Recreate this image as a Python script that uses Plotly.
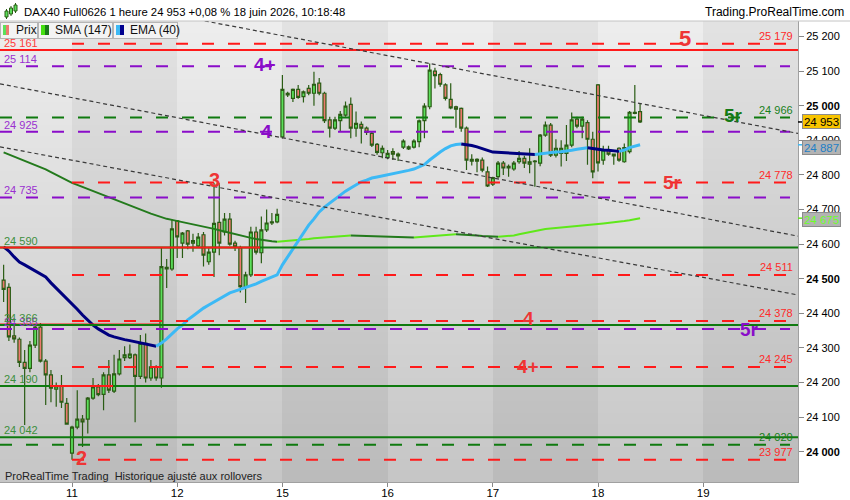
import numpy as np
import plotly.graph_objects as go

# ---------------- data ----------------
day_labels = ["11", "12", "15", "16", "17", "18", "19"]
day_starts = [0, 20, 40, 60, 80, 100, 120]   # candle index of the first hourly candle of each day
first_candle = -13                            # index of the first visible candle (day 10)

opens = [
    24496, 24475, 24335, 24325, 24258, 24241, 24308, 24360, 24262, 24222, 24181, 24190, 24140,
    23996, 24071, 24094, 24094, 24155, 24187, 24166, 24222, 24175, 24225, 24272, 24272, 24280, 24218, 24313, 24213, 24245, 24213, 24533, 24528,
    24667, 24603, 24638, 24603, 24595, 24627, 24549, 24577, 24663, 24635, 24672, 24603, 24590, 24477, 24511, 24635, 24575, 24641, 24661, 24664,
    24910, 25036, 25021, 25047, 25026, 25050, 25036, 25065, 25036, 24959, 24935, 24957, 24973, 25004, 24935, 24946, 24935, 24920, 24888, 24864,
    24850, 24867, 24860, 24880, 24875, 24880, 24896, 24957, 24997, 25100, 25090, 25060, 25018, 24997, 24992, 24935, 24845, 24840, 24843, 24809,
    24773, 24795, 24834, 24820, 24817, 24838, 24848, 24831, 24840, 24834, 24915, 24944, 24857, 24862, 24862, 24886, 24961, 24941, 24951, 24903,
    25060, 24843, 24872, 24860, 24877, 24838, 24867, 24978, 24983,
]
highs = [
    24540, 24487, 24365, 24330, 24294, 24320, 24370, 24372, 24268, 24236, 24200, 24222, 24155,
    24075, 24178, 24106, 24158, 24213, 24196, 24230, 24265, 24280, 24294, 24305, 24310, 24284, 24337, 24342, 24265, 24250, 24590, 24557, 24672,
    24670, 24635, 24641, 24630, 24632, 24635, 24588, 24777, 24777, 24690, 24690, 24610, 24595, 24520, 24650, 24650, 24680, 24700, 24690, 24702,
    25089, 25040, 25050, 25060, 25044, 25060, 25098, 25080, 25040, 24968, 24968, 24985, 25012, 25024, 24983, 24954, 24940, 24925, 24892, 24885,
    24872, 24877, 24865, 24903, 24885, 24903, 24960, 25007, 25122, 25110, 25095, 25065, 25065, 25000, 24995, 24940, 24860, 24848, 24850, 24824,
    24795, 24840, 24840, 24830, 24840, 24869, 24855, 24877, 24843, 24918, 24954, 24950, 24903, 24900, 24944, 24980, 24968, 24968, 24958, 24925,
    25063, 24884, 24884, 24862, 24880, 24891, 24985, 25060, 25007,
]
lows = [
    24433, 24320, 24315, 24245, 24077, 24230, 24300, 24258, 24135, 24143, 24130, 24126, 24078,
    23977, 24065, 24014, 24053, 24150, 24160, 24120, 24170, 24170, 24220, 24262, 24268, 24085, 24210, 24200, 24205, 24205, 24185, 24473, 24523,
    24560, 24560, 24585, 24578, 24590, 24535, 24540, 24505, 24568, 24625, 24595, 24580, 24460, 24430, 24505, 24570, 24545, 24635, 24655, 24660,
    24905, 25025, 25011, 25020, 25009, 25030, 25000, 25030, 24950, 24908, 24930, 24924, 24968, 24906, 24910, 24891, 24915, 24881, 24858, 24848,
    24845, 24843, 24840, 24875, 24872, 24876, 24880, 24906, 24990, 25050, 25055, 25015, 24990, 24936, 24925, 24814, 24827, 24808, 24808, 24765,
    24768, 24790, 24800, 24795, 24812, 24832, 24820, 24805, 24766, 24825, 24910, 24852, 24850, 24824, 24840, 24880, 24935, 24906, 24829, 24790,
    24810, 24829, 24855, 24829, 24838, 24835, 24862, 24975, 24950,
]
closes = [
    24469, 24332, 24326, 24258, 24241, 24308, 24360, 24262, 24222, 24184, 24190, 24143, 24080,
    24071, 24094, 24086, 24155, 24187, 24165, 24222, 24178, 24225, 24268, 24280, 24282, 24218, 24313, 24213, 24245, 24213, 24535, 24528, 24644,
    24621, 24632, 24600, 24610, 24620, 24568, 24577, 24660, 24603, 24672, 24600, 24592, 24477, 24511, 24635, 24577, 24641, 24661, 24664, 24686,
    25047, 25031, 25047, 25024, 25040, 25036, 25062, 25036, 24957, 24935, 24959, 24975, 24999, 24935, 24949, 24935, 24923, 24886, 24865, 24877,
    24862, 24860, 24855, 24898, 24881, 24898, 24956, 24999, 25103, 25087, 25062, 25021, 24994, 24990, 24935, 24843, 24840, 24845, 24814, 24768,
    24792, 24834, 24820, 24825, 24834, 24848, 24834, 24838, 24838, 24915, 24944, 24857, 24877, 24877, 24886, 24959, 24941, 24961, 24903, 24809,
    24835, 24872, 24860, 24855, 24843, 24879, 24981, 24981, 24953,
]
ema40 = [
    24592, 24580, 24563, 24548, 24540, 24531, 24522, 24514, 24505, 24488, 24473, 24459, 24444,
    24430, 24412, 24395, 24381, 24366, 24355, 24346, 24337, 24332, 24327, 24324, 24321, 24318, 24316, 24311, 24308, 24305, 24314, 24326, 24340,
    24355, 24366, 24381, 24392, 24404, 24415, 24424, 24433, 24441, 24450, 24459, 24464, 24469, 24473, 24479, 24485, 24492, 24499, 24505, 24511,
    24540, 24563, 24586, 24609, 24632, 24655, 24673, 24693, 24707, 24719, 24730, 24742, 24753, 24762, 24771, 24780, 24785, 24791, 24794, 24797,
    24800, 24803, 24806, 24808, 24813, 24817, 24823, 24830, 24843, 24855, 24866, 24876, 24884, 24888, 24889, 24888, 24885, 24881, 24875, 24871,
    24866, 24865, 24863.5, 24863, 24862, 24861.5, 24860.5, 24860, 24859, 24861, 24864, 24865, 24866, 24867, 24868, 24871, 24874, 24877, 24878.5, 24876,
    24874, 24872, 24871, 24869.5, 24868, 24872, 24879, 24884, 24887,
]
sma147 = [
    24865, 24859, 24853, 24847, 24842, 24836, 24829, 24823, 24816, 24808, 24800, 24792, 24785,
    24777, 24771, 24765, 24759, 24752, 24746, 24740, 24735, 24729, 24723, 24717, 24712, 24706, 24700, 24694, 24688, 24683, 24677, 24673, 24670,
    24667, 24664, 24661, 24658, 24655, 24651, 24647, 24644, 24640, 24636, 24632, 24628, 24625, 24620, 24618, 24615, 24612, 24610, 24608, 24607,
    24608, 24609, 24611, 24612, 24614, 24615, 24617, 24618, 24619, 24620, 24621, 24622, 24624, 24625, 24624.5, 24624, 24623.3, 24622.7, 24622.2, 24621.6,
    24621.2, 24620.7, 24620.3, 24620, 24619.6, 24619.3, 24620.4, 24622, 24623.7, 24625, 24626.4, 24627.2, 24627.8, 24628.3, 24627.8, 24627, 24625.8, 24624.7, 24623.5, 24622.4,
    24621.5, 24621, 24622, 24623.4, 24625, 24628.6, 24632, 24635.6, 24639, 24642, 24643.7, 24645.4, 24646.6, 24647.7, 24649, 24650, 24651.5, 24653, 24654.6, 24656.4,
    24658, 24659.6, 24661, 24663, 24664.8, 24666.8, 24669, 24671, 24675,
]

price_ticks = list(range(24000, 25201, 100))
bold_ticks = [24000, 24500, 25000]
last_price = 24953
ema_last = 24887
sma_last = 24675

# horizontal support / resistance levels
level_prices = [25179, 25161, 25114, 24966, 24925, 24778, 24735, 24590, 24590, 24511,
                24378, 24368, 24366, 24355, 24245, 24190, 24190, 24042, 24020, 23977]
right_label_values = [25179, 24966, 24778, 24511, 24378, 24245, 24020, 23977]
left_label_values = [25161, 25114, 24925, 24735, 24590, 24355, 24366, 24190, 24042]

# trend lines (candle index, price)
trend_x0 = [20, -13.69, -13.69]
trend_p0 = [25260, 25063, 24881]
trend_x1 = [138.02, 138.02, 138.02]
trend_p1 = [24920, 24623, 24453]

wave_texts = ["5", "4+", "4", "5r", "3", "5r", "4", "5r", "4+", "2"]

# ---------------- styles / layout ----------------
RED = "#ff1a1a"
GREEN = "#0f7a0f"
PURPLE = "#8a0dc9"
FONT = "Liberation Sans, Arial, sans-serif"

PLOT_W, PLOT_TOP, PLOT_BOTTOM = 798, 21, 482
PLOT_H = PLOT_BOTTOM - PLOT_TOP
PX_PER_CANDLE = 5.26
X_DAY11_PX = 72
XMIN = (0 - X_DAY11_PX) / PX_PER_CANDLE
XMAX = (PLOT_W - X_DAY11_PX) / PX_PER_CANDLE
PTS_PER_PX = 2.89
Y_25000_PX = 105.7
YMAX = 25000 + (Y_25000_PX - PLOT_TOP) * PTS_PER_PX
YMIN = 25000 - (PLOT_BOTTOM - Y_25000_PX) * PTS_PER_PX


def pxx(x):
    return x / PLOT_W


def pxy(y):
    return (PLOT_BOTTOM - y) / PLOT_H


def ux(xpx):
    return (xpx - X_DAY11_PX) / PX_PER_CANDLE


def fmt(v):
    return f"{int(round(v)):,}".replace(",", " ")


# style for each level: (color, dash, start px, end px)
level_style = [
    (RED, "dash", 72, 790), (RED, "solid", 0, 798), (PURPLE, "dash", 0, 790), (GREEN, "dash", 0, 790),
    (PURPLE, "dash", 0, 790), (RED, "dash", 72, 790), (PURPLE, "dash", 0, 790), (GREEN, "solid", 0, 798),
    (RED, "solid", 0, 260), (RED, "dash", 72, 790), (RED, "dash", 72, 790), (RED, "solid", 0, 160),
    (GREEN, "solid", 0, 798), (PURPLE, "dash", 0, 790), (RED, "dash", 72, 790), (GREEN, "solid", 0, 798),
    (RED, "solid", 50, 113), (GREEN, "solid", 0, 798), (GREEN, "dash", 0, 790), (RED, "dash", 72, 790),
]
right_label_colors = ["#ff2a2a", "#17801a", "#ff2a2a", "#ff2a2a", "#ff2a2a", "#ff2a2a", "#17801a", "#ff2a2a"]
left_label_colors = ["#ff3a3a", "#9a30d0", "#9a30d0", "#9a30d0", "#3d8f3d", "#9a30d0", "#3d8f3d", "#3d8f3d", "#3d8f3d"]
# wave label style: (color, x px, y px, size)
wave_style = [
    ("#ee3535", 685, 38, 22), (PURPLE, 265, 65, 19), (PURPLE, 266, 131, 19), ("#157a15", 733, 115, 19),
    ("#ee3535", 214, 180, 20), ("#ee3535", 672, 182, 19), ("#ee3535", 528, 318, 19), (PURPLE, 749, 329, 19),
    ("#ee3535", 528, 366, 19), ("#ee3535", 81, 458, 20),
]

candle_x = list(range(first_candle, first_candle + len(opens)))

fig = go.Figure()

# background: alternating day bands with vertical gradient
ny = 40
y_edges = np.linspace(YMIN, YMAX, ny + 1)
x_edges = [XMIN] + day_starts + [XMAX]
z = []
for j in range(ny):
    t = (j + 0.5) / ny
    row = []
    for k in range(len(x_edges) - 1):
        lo, hi = (197, 237) if k % 2 == 0 else (186, 226)
        row.append(lo + (hi - lo) * t)
    z.append(row)
fig.add_trace(go.Heatmap(x=x_edges, y=y_edges, z=z, zmin=0, zmax=255,
                         colorscale=[[0, "rgb(0,0,0)"], [1, "rgb(255,255,255)"]],
                         showscale=False, hoverinfo="skip"))

# candles
fig.add_trace(go.Candlestick(
    x=candle_x, open=opens, high=highs, low=lows, close=closes,
    increasing=dict(fillcolor="#5be05b", line=dict(color="#2a5c14", width=1.2)),
    decreasing=dict(fillcolor="#ec7a6f", line=dict(color="#2a5c14", width=1.2)),
    whiskerwidth=0, hoverinfo="skip", showlegend=False))


def segments(vals):
    segs, start, cur = [], 0, None
    for i in range(1, len(vals)):
        d = "up" if vals[i] > vals[i - 1] else ("down" if vals[i] < vals[i - 1] else cur or "down")
        if cur is None:
            cur = d
        elif d != cur:
            segs.append((start, i - 1, cur))
            start, cur = i - 1, d
    segs.append((start, len(vals) - 1, cur))
    return segs


for s, e, d in segments(sma147):
    fig.add_trace(go.Scatter(x=candle_x[s:e + 1], y=sma147[s:e + 1], mode="lines",
                             line=dict(color="#5fe81a" if d == "up" else "#237a1c", width=2),
                             hoverinfo="skip", showlegend=False))
for s, e, d in segments(ema40):
    fig.add_trace(go.Scatter(x=candle_x[s:e + 1], y=ema40[s:e + 1], mode="lines",
                             line=dict(color="#3cb9f5" if d == "up" else "#00007f", width=3),
                             hoverinfo="skip", showlegend=False))

shapes = []
for p, (col, dash, x0, x1) in zip(level_prices, level_style):
    shapes.append(dict(type="line", xref="x", yref="y", x0=ux(x0), x1=ux(x1), y0=p, y1=p, layer="above",
                       line=dict(color=col, width=2, dash="12px,14px" if dash == "dash" else "solid")))
for a, b, c, d in zip(trend_x0, trend_p0, trend_x1, trend_p1):
    shapes.append(dict(type="line", xref="x", yref="y", x0=a, y0=b, x1=c, y1=d, layer="above",
                       line=dict(color="#3a3a3a", width=1.2, dash="4px,3px")))
# header separator
shapes.append(dict(type="line", xref="paper", yref="paper", x0=0, x1=850 / PLOT_W, y0=1, y1=1,
                   line=dict(color="#c4c4c4", width=1)))
# small axis marks at price boxes
for p, col in [(last_price, "#000000"), (ema_last, "#3cb9f5"), (sma_last, "#5fe81a")]:
    shapes.append(dict(type="line", xref="paper", yref="y", x0=1, x1=1 + 6 / PLOT_W, y0=p, y1=p,
                       line=dict(color=col, width=1.5)))
# candle icon in header
for (x0, y0, x1, y1) in [(5, 11, 8, 17), (9.5, 8, 12.5, 14), (14, 5, 17, 11)]:
    cx = (x0 + x1) / 2
    shapes.append(dict(type="line", xref="paper", yref="paper", x0=pxx(cx), x1=pxx(cx), y0=pxy(y1 + 2), y1=pxy(y0 - 2),
                       line=dict(color="#2a5c14", width=1)))
    shapes.append(dict(type="rect", xref="paper", yref="paper", x0=pxx(x0), x1=pxx(x1), y0=pxy(y1), y1=pxy(y0),
                       fillcolor="#5be05b", line=dict(color="#2a5c14", width=1)))

ann = []


def text(t, x, y, size=12, color="#000", xanchor="left", yanchor="middle", xref="paper", yref="paper", **kw):
    ann.append(dict(text=t, x=x, y=y, xref=xref, yref=yref, xanchor=xanchor, yanchor=yanchor,
                    showarrow=False, font=dict(family=FONT, size=size, color=color), **kw))


def box(x0, y0, w, h, color, border=None):
    ann.append(dict(text=" ", x=pxx(x0), y=pxy(y0), xref="paper", yref="paper", xanchor="left", yanchor="top",
                    width=w, height=h, bgcolor=color, borderpad=0, showarrow=False,
                    borderwidth=1 if border else 0, bordercolor=border or color, font=dict(size=6)))


# level labels
for v, col in zip(right_label_values, right_label_colors):
    text(fmt(v), pxx(795), v + 7.5 * PTS_PER_PX, size=11, color=col, xanchor="right", yref="y")
for v, col in zip(left_label_values, left_label_colors):
    text(fmt(v), pxx(2), v + 7 * PTS_PER_PX, size=11, color=col, yref="y")

# wave labels
for t, (col, x, y, s) in zip(wave_texts, wave_style):
    text("<b>" + t + "</b>", pxx(x), pxy(y), size=s, color=col, xanchor="center")

# header texts
text("DAX40 Full0626 1 heure 24 953 +0,08 % 18 juin 2026, 10:18:48", pxx(22), pxy(12), size=11.3, color="#000")
text("Trading.ProRealTime.com", pxx(846), pxy(12), size=12, xanchor="right")

# indicator legend boxes
box(0, 22, 36, 15, "#f3f3f3", "#b5b5b5")
box(38, 22, 73, 15, "#f3f3f3", "#b5b5b5")
box(113, 22, 63, 15, "#f3f3f3", "#b5b5b5")
box(3, 25, 3, 10, "#5be05b")
box(6, 25, 3, 10, "#ec7a6f")
box(41, 25, 4, 10, "#44e010")
box(45, 25, 4, 10, "#1a7a1a")
box(116, 25, 4, 10, "#3cb9f5")
box(120, 25, 4, 10, "#00008f")
text("Prix", pxx(14), pxy(30), size=12, color="#111")
text("SMA (147)", pxx(53), pxy(30), size=12, color="#111")
text("EMA (40)", pxx(128), pxy(30), size=12, color="#111")

# footer text
text("ProRealTime Trading  Historique ajusté aux rollovers", pxx(3), pxy(476), size=11, color="#222")

# price boxes on the axis
for v, pos, bg, fg in [(last_price, 24955, "#f8c400", "#000000"),
                       (ema_last, 24880, "#b3b3b3", "#1f7fc6"),
                       (sma_last, 24672, "#b3b3b3", "#6cff2a")]:
    ann.append(dict(text=fmt(v), x=pxx(821), y=pos, xref="paper", yref="y", xanchor="center", yanchor="middle",
                    showarrow=False, bgcolor=bg, bordercolor="#8c8c8c", borderwidth=1, borderpad=0,
                    width=37, height=13, font=dict(family=FONT, size=11.5, color=fg)))

ticktext = [("<b>" + fmt(v) + "</b>" if v in bold_ticks else fmt(v)) for v in price_ticks]

fig.update_layout(
    width=850, height=500,
    margin=dict(l=0, r=850 - PLOT_W, t=PLOT_TOP, b=500 - PLOT_BOTTOM, autoexpand=False),
    paper_bgcolor="#ffffff", plot_bgcolor="#d8d8d8",
    showlegend=False, boxgap=0.2,
    shapes=shapes, annotations=ann,
    xaxis=dict(range=[XMIN, XMAX], tickvals=day_starts, ticktext=day_labels, ticks="outside", ticklen=4,
               tickcolor="#888", showgrid=False, zeroline=False, showline=True, linecolor="#a0a0a0",
               automargin=False, ticklabelstandoff=-4,
               tickfont=dict(family=FONT, size=11.5, color="#000"), rangeslider=dict(visible=False), fixedrange=True),
    yaxis=dict(range=[YMIN, YMAX], side="right", tickvals=price_ticks, ticktext=ticktext, ticks="outside", ticklen=5,
               tickcolor="#888", showgrid=False, zeroline=False, showline=True, linecolor="#a0a0a0",
               automargin=False,
               tickfont=dict(family=FONT, size=11, color="#000"), fixedrange=True),
)

fig.write_html("out.html", config={"displayModeBar": False},
               post_script="document.body.style.margin='0px';document.body.style.overflow='hidden';")
